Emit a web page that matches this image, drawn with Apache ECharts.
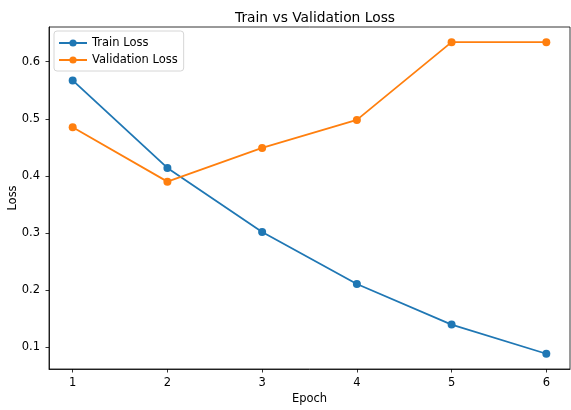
<!DOCTYPE html>
<html>
<head>
<meta charset="utf-8">
<title>Train vs Validation Loss</title>
<style>
  html, body { margin: 0; padding: 0; background: #fff; }
  #main { width: 571px; height: 410px; }
</style>
</head>
<body>
<div id="main"></div>
<script src="https://cdn.jsdelivr.net/npm/echarts@6/dist/echarts.min.js"></script>
<script>
var epochs = [1, 2, 3, 4, 5, 6];
var trainLoss = [0.567, 0.414, 0.302, 0.211, 0.140, 0.089];
var valLoss = [0.485, 0.390, 0.449, 0.498, 0.634, 0.634];
var xTicks = [1, 2, 3, 4, 5, 6];
var yTicks = [0.1, 0.2, 0.3, 0.4, 0.5, 0.6];

function pairs(xs, ys) {
  return xs.map(function (x, i) { return [x, ys[i]]; });
}

var font = 'DejaVu Sans';
var axisCommon = {
  axisLine: { show: true, onZero: false, lineStyle: { color: '#000', width: 0.8 } },
  axisTick: { show: true, inside: false, length: 3.5, lineStyle: { color: '#000', width: 0.8 } },
  splitLine: { show: false },
  axisLabel: { color: '#000', fontFamily: font, fontSize: 11.5 },
  nameTextStyle: { color: '#000', fontFamily: font, fontSize: 11.5 }
};

var chart = echarts.init(document.getElementById('main'), null, { renderer: 'canvas' });
chart.setOption({
  animation: false,
  backgroundColor: '#fff',
  title: {
    text: 'Train vs Validation Loss',
    left: 310, top: 6, textAlign: 'center',
    textStyle: { fontFamily: font, fontSize: 13.8, fontWeight: 'normal', color: '#000' }
  },
  legend: {
    orient: 'vertical',
    left: 54, top: 31,
    padding: [5, 6, 4, 4],
    itemGap: 3,
    itemWidth: 28, itemHeight: 9,
    borderColor: '#d6d6d6', borderWidth: 1, borderRadius: 3,
    backgroundColor: 'rgba(255,255,255,0.8)',
    textStyle: { fontFamily: font, fontSize: 11.5, color: '#000', height: 14, lineHeight: 14 },
    data: ['Train Loss', 'Validation Loss']
  },
  grid: {
    left: 49, right: 1, top: 27, bottom: 41,
    show: true, borderColor: '#000', borderWidth: 0.8,
    containLabel: false, outerBoundsMode: 'none'
  },
  xAxis: Object.assign({}, axisCommon, {
    type: 'value', min: 0.75, max: 6.25,
    name: 'Epoch', nameLocation: 'middle', nameGap: 24, nameMoveOverlap: false,
    axisTick: Object.assign({}, axisCommon.axisTick, { customValues: xTicks }),
    axisLabel: Object.assign({}, axisCommon.axisLabel, { customValues: xTicks, margin: 8 })
  }),
  yAxis: Object.assign({}, axisCommon, {
    type: 'value', min: 0.0623, max: 0.6605,
    name: 'Loss', nameLocation: 'middle', nameGap: 30, nameRotate: 90, nameMoveOverlap: false,
    axisTick: Object.assign({}, axisCommon.axisTick, { customValues: yTicks }),
    axisLabel: Object.assign({}, axisCommon.axisLabel, {
      customValues: yTicks, margin: 9,
      formatter: function (v) { return v.toFixed(1); }
    })
  }),
  series: [
    {
      name: 'Train Loss', type: 'line',
      data: pairs(epochs, trainLoss),
      color: '#1f77b4',
      symbol: 'circle', symbolSize: 8,
      lineStyle: { width: 1.8 },
      itemStyle: { color: '#1f77b4' }
    },
    {
      name: 'Validation Loss', type: 'line',
      data: pairs(epochs, valLoss),
      color: '#ff7f0e',
      symbol: 'circle', symbolSize: 8,
      lineStyle: { width: 1.8 },
      itemStyle: { color: '#ff7f0e' }
    }
  ]
});
</script>
</body>
</html>
